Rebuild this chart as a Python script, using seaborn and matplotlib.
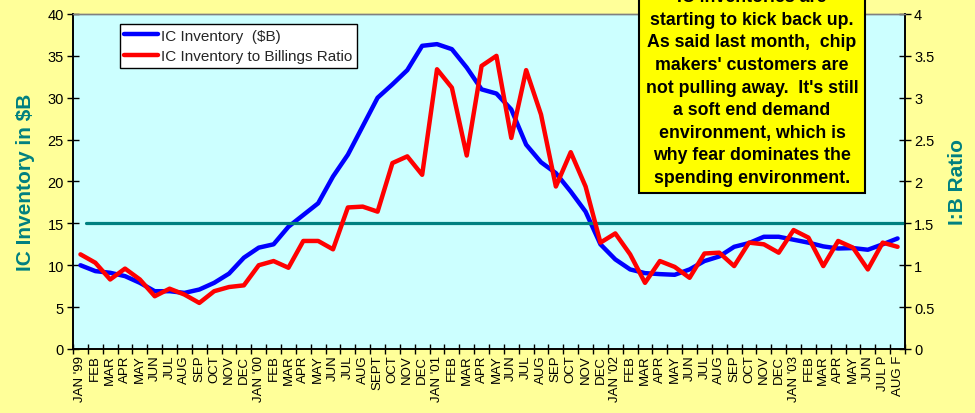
import numpy as np
import pandas as pd
import matplotlib
matplotlib.use("Agg")
import matplotlib.pyplot as plt
import seaborn as sns

months = ["JAN '99", "FEB", "MAR", "APR", "MAY", "JUN", "JUL", "AUG", "SEP", "OCT", "NOV", "DEC",
          "JAN '00", "FEB", "MAR", "APR", "MAY", "JUN", "JUL", "AUG", "SEPT", "OCT", "NOV", "DEC",
          "JAN '01", "FEB", "MAR", "APR", "MAY", "JUN", "JUL", "AUG", "SEP", "OCT", "NOV", "DEC",
          "JAN '02", "FEB", "MAR", "APR", "MAY", "JUN", "JUL", "AUG", "SEP", "OCT", "NOV", "DEC",
          "JAN '03", "FEB", "MAR", "APR", "MAY", "JUN", "JUL P", "AUG F"]

ic_inventory = [10.0, 9.3, 9.1, 8.7, 7.9, 6.9, 6.9, 6.7, 7.1, 7.9, 9.0, 10.9,
                12.1, 12.5, 14.6, 16.0, 17.4, 20.6, 23.2, 26.6, 30.0, 31.6, 33.3, 36.2,
                36.4, 35.8, 33.6, 31.0, 30.5, 28.6, 24.4, 22.3, 21.0, 18.8, 16.4, 12.5,
                10.7, 9.5, 9.06, 8.94, 8.86, 9.5, 10.5, 11.05, 12.2, 12.65, 13.4, 13.4,
                13.05, 12.7, 12.25, 12.0, 12.05, 11.85, 12.5, 13.2]

ib_ratio = [1.13, 1.03, 0.83, 0.96, 0.83, 0.63, 0.72, 0.65, 0.55, 0.69, 0.74, 0.76,
            1.00, 1.05, 0.97, 1.29, 1.29, 1.19, 1.69, 1.70, 1.64, 2.22, 2.30, 2.08,
            3.34, 3.12, 2.31, 3.38, 3.50, 2.52, 3.33, 2.80, 1.94, 2.35, 1.94, 1.27,
            1.38, 1.13, 0.79, 1.05, 0.98, 0.85, 1.14, 1.15, 0.99, 1.27, 1.25, 1.15,
            1.42, 1.33, 0.99, 1.29, 1.21, 0.95, 1.27, 1.22]

parity_level = 1.5

note = ("IC inventories are\nstarting to kick back up.\nAs said last month,  chip\n"
        "makers' customers are\nnot pulling away.  It's still\na soft end demand\n"
        "environment, which is\nwhy fear dominates the\nspending environment.")

sns.set_theme(style="ticks")
plt.rcParams['font.family'] = ['Liberation Sans', 'DejaVu Sans']

df = pd.DataFrame({"idx": np.arange(len(months)), "inv": ic_inventory, "ratio": ib_ratio})

fig = plt.figure(figsize=(9.75, 4.14), dpi=100)
fig.patch.set_facecolor("#FFFF99")
ax = fig.add_axes([0.0749, 0.1546, 0.8533, 0.8092])
ax.set_facecolor("#CCFFFF")
ax2 = ax.twinx()

ax2.axhline(parity_level, xmin=0.015, xmax=1.0, color="#008080", lw=2.3, zorder=1)
sns.lineplot(data=df, x="idx", y="inv", ax=ax, color="#0000FF", lw=3.2, label="IC Inventory  ($B)", legend=False)
sns.lineplot(data=df, x="idx", y="ratio", ax=ax2, color="#FF0000", lw=3.2, label="IC Inventory to Billings Ratio", legend=False)

n = len(months)
ax.set_xlim(-0.5, n - 0.5)
ax.set_ylim(0, 40)
ax2.set_ylim(0, 4)
ax.set_yticks(np.arange(0, 41, 5))
ax2.set_yticks(np.arange(0, 4.01, 0.5))
ax2.set_yticklabels(["0", "0.5", "1", "1.5", "2", "2.5", "3", "3.5", "4"])

ax.set_xticks(np.arange(n))
ax.set_xticklabels(months, rotation=90, fontsize=9.5, color="black")
ax.set_xticks(np.arange(n + 1) - 0.5, minor=True)
ax.tick_params(axis="x", which="major", length=0, pad=4)
ax.tick_params(axis="x", which="minor", length=7, width=1, color="black", direction="inout")
ax.tick_params(axis="y", length=9, width=1, color="black", direction="inout", labelsize=10.5, labelcolor="black", pad=2)
ax2.tick_params(axis="y", length=9, width=1, color="black", direction="inout", labelsize=10.5, labelcolor="black", pad=2)

ax.set_xlabel("")
ax.set_ylabel("IC Inventory in $B", fontsize=15, fontweight="bold", color="#008080", labelpad=9)
ax2.set_ylabel("I:B Ratio", fontsize=15, fontweight="bold", color="#008080", labelpad=10)

for a in (ax, ax2):
    for s in ("left", "bottom", "right"):
        a.spines[s].set_color("black")
        a.spines[s].set_linewidth(1.2)
    a.spines["top"].set_color("#808080")
    a.spines["top"].set_linewidth(1.0)

h1, l1 = ax.get_legend_handles_labels()
h2, l2 = ax2.get_legend_handles_labels()
leg = ax.legend(h1 + h2, l1 + l2, loc="upper left", bbox_to_anchor=(0.056, 0.97),
                fontsize=11, frameon=True, fancybox=False, framealpha=1,
                edgecolor="black", facecolor="white", handlelength=2.2,
                borderpad=0.3, labelspacing=0.45, handletextpad=0.2, borderaxespad=0)
leg.get_frame().set_linewidth(1.0)

fig.text(752 / 975, 1 - 187 / 414, note, ha="center", va="bottom", fontsize=12.8,
         fontweight="bold", color="black", linespacing=1.43,
         bbox=dict(boxstyle="square,pad=0.38", facecolor="#FFFF00", edgecolor="black", lw=1.5))

fig.savefig("out.png", dpi=100, facecolor=fig.get_facecolor())
